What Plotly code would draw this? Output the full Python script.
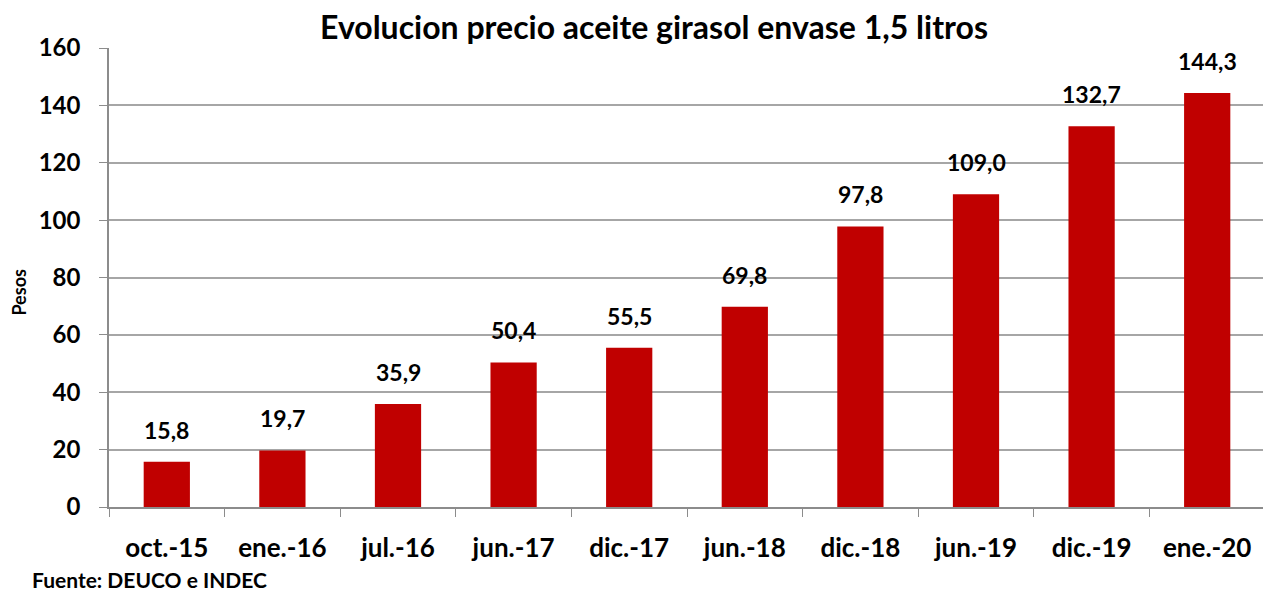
import plotly.graph_objects as go

categories = ["oct.-15", "ene.-16", "jul.-16", "jun.-17", "dic.-17", "jun.-18", "dic.-18", "jun.-19", "dic.-19", "ene.-20"]
values = [15.8, 19.7, 35.9, 50.4, 55.5, 69.8, 97.8, 109.0, 132.7, 144.3]
labels = [f"{v:.1f}".replace(".", ",") for v in values]

FONT = "Lato"

fig = go.Figure(go.Bar(
    x=categories, y=values,
    marker=dict(color="#C00000", line=dict(width=0)),
))

for c, v, t in zip(categories, values, labels):
    fig.add_annotation(x=c, y=v, text=f"<b>{t}</b>", showarrow=False,
                       xanchor="center", yanchor="bottom", yshift=16,
                       font=dict(family=FONT, size=23, color="#000000"))

fig.update_layout(
    width=1263, height=584,
    margin=dict(l=101, r=6, t=40, b=85, autoexpand=False),
    paper_bgcolor="white", plot_bgcolor="white",
    bargap=0.6,
    showlegend=False,
    title=dict(text="<b>Evolucion precio aceite girasol envase 1,5 litros</b>",
               x=0.5115, xanchor="center", xref="container",
               y=0.9658, yanchor="middle", yref="container",
               font=dict(family=FONT, size=32, color="#000000")),
    font=dict(family=FONT, color="#000000"),
)

fig.update_yaxes(
    range=[0, 160], dtick=20, showgrid=True, gridcolor="#A6A6A6", gridwidth=1.5,
    showline=True, linecolor="#8C8C8C", linewidth=1.5,
    ticks="outside", ticklen=8, tickcolor="#8C8C8C", ticklabelstandoff=14,
    tickfont=dict(family=FONT, size=24, color="#000000"), tickprefix="<b>", ticksuffix="</b>",
    zeroline=False, automargin=False,
)
fig.update_xaxes(
    showline=True, linecolor="#8C8C8C", linewidth=1.5,
    ticks="outside", ticklen=8, tickcolor="#8C8C8C", tickson="boundaries",
    ticklabelstandoff=17,
    tickfont=dict(family=FONT, size=26, color="#000000"),
    tickvals=categories, ticktext=[f"<b>{c}</b>" for c in categories],
    automargin=False,
)

fig.add_annotation(text="<b>Pesos</b>", xref="paper", yref="paper",
                   x=-0.0775, y=0.468, xanchor="center", yanchor="middle", textangle=-90,
                   showarrow=False, font=dict(family=FONT, size=18, color="#000000"))

fig.add_annotation(text="<b>Fuente: DEUCO e INDEC</b>", xref="paper", yref="paper",
                   x=-0.0683, y=-0.159, xanchor="left", yanchor="middle", showarrow=False,
                   font=dict(family=FONT, size=21, color="#000000"))

fig.write_html("out.html")
